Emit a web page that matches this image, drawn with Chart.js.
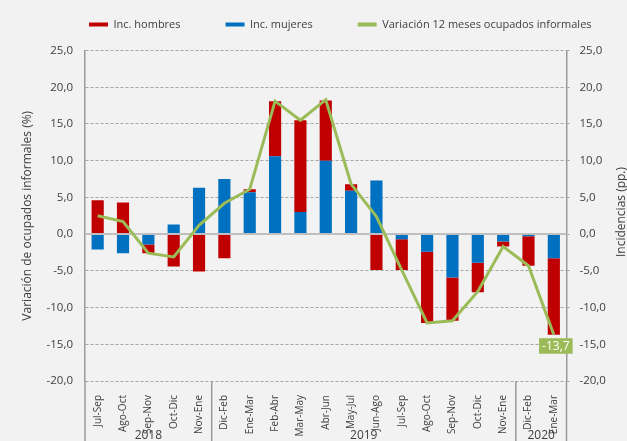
<!DOCTYPE html>
<html>
<head>
<meta charset="utf-8">
<script src="https://cdn.jsdelivr.net/npm/chart.js@4.4.1/dist/chart.umd.min.js"></script>
<style>
  html, body { margin: 0; padding: 0; background: #F2F2F2; }
  #wrap { width: 627px; height: 441px; position: relative; }
  canvas { display: block; }
</style>
</head>
<body>
<div id="wrap"><canvas id="c" width="627" height="441"></canvas></div>
<script>
// ---- data ----
const categories = ['Jul-Sep','Ago-Oct','Sep-Nov','Oct-Dic','Nov-Ene',
  'Dic-Feb','Ene-Mar','Feb-Abr','Mar-May','Abr-Jun','May-Jul','Jun-Ago','Jul-Sep','Ago-Oct','Sep-Nov','Oct-Dic','Nov-Ene',
  'Dic-Feb','Ene-Mar'];
const yearLabels = ['2018', '2019', '2020'];
const yearFirstIndex = [0, 5, 17];
const yearLastIndex = [4, 16, 18];
const incHombres = [4.6, 4.3, -1.2, -4.4, -5.1, -3.3, 0.4, 7.5, 12.5, 8.2, 0.9, -4.9, -4.2, -9.7, -5.9, -4.0, -0.7, -4.0, -10.4];
const incMujeres = [-2.1, -2.6, -1.4, 1.3, 6.3, 7.5, 5.7, 10.6, 3.0, 10.0, 5.9, 7.3, -0.7, -2.4, -5.9, -3.9, -1.0, -0.3, -3.3];
const variacion = [2.5, 1.7, -2.6, -3.1, 1.2, 4.2, 6.1, 18.1, 15.5, 18.3, 6.8, 2.4, -4.9, -12.1, -11.8, -7.8, -1.7, -4.3, -13.7];
const yMin = -20, yMax = 25, yStep = 5;
const seriesNames = ['Inc. hombres', 'Inc. mujeres', 'Variación 12 meses ocupados informales'];
const leftTitle = 'Variación de ocupados informales (%)';
const rightTitle = 'Incidencias (pp.)';

// ---- styles ----
const RED = '#C00000', BLUE = '#0070C0', GREEN = '#9BBB59';
const TXT = '#404040', AXIS = '#9a9a9a', GRID = '#A6A6A6';
const FONT = "'Open Sans', sans-serif";
Chart.defaults.font.family = FONT;

const fmt = v => v.toFixed(1).replace('.', ',');

const decor = {
  id: 'decor',
  beforeDraw(chart) {
    const ctx = chart.ctx;
    ctx.save();
    ctx.fillStyle = '#F2F2F2';
    ctx.fillRect(0, 0, chart.width, chart.height);
    ctx.restore();
  },
  afterLayout(chart) {
    const lg = chart.legend;
    if (lg) {
      lg.left = 44; lg.right = 900;
      lg.top = -26; lg.bottom = 50;
    }
  },
  beforeDatasetDraw(chart, args) {
    if (args.meta.type !== 'line') return;
    const ctx = chart.ctx, y = chart.scales.y.getPixelForValue(0), a = chart.chartArea;
    ctx.save();
    ctx.strokeStyle = '#BFBFBF';
    ctx.lineWidth = 2;
    ctx.beginPath(); ctx.moveTo(a.left, y); ctx.lineTo(a.right, y); ctx.stroke();
    ctx.restore();
  },
  afterDraw(chart) {
    const ctx = chart.ctx, a = chart.chartArea, xs = chart.scales.x;
    const half = (xs.getPixelForValue(1) - xs.getPixelForValue(0)) / 2;
    ctx.save();
    // axis extensions and group separators below plot
    ctx.strokeStyle = AXIS; ctx.lineWidth = 1.5;
    const xsLines = [a.left, a.right];
    for (let g = 1; g < yearFirstIndex.length; g++) xsLines.push(xs.getPixelForValue(yearFirstIndex[g]) - half);
    xsLines.forEach(x => { ctx.beginPath(); ctx.moveTo(x, a.bottom); ctx.lineTo(x, chart.height); ctx.stroke(); });
    // year labels
    ctx.fillStyle = TXT; ctx.font = '12px ' + FONT; ctx.textAlign = 'center'; ctx.textBaseline = 'middle';
    yearLabels.forEach((t, g) => {
      const x0 = xs.getPixelForValue(yearFirstIndex[g]) - half;
      const x1 = xs.getPixelForValue(yearLastIndex[g]) + half;
      ctx.fillText(t, (x0 + x1) / 2, 436);
    });
    // right axis title (reads bottom to top)
    ctx.save();
    ctx.translate(622, 212);
    ctx.rotate(-Math.PI / 2);
    ctx.fillText(rightTitle, 0, 0);
    ctx.restore();
    // data label for last point of the line
    const meta = chart.getDatasetMeta(2);
    const last = meta.data[meta.data.length - 1];
    const txt = fmt(variacion[variacion.length - 1]);
    ctx.font = '12px ' + FONT;
    const w = ctx.measureText(txt).width + 6;
    const bx = last.x + 2 - w / 2, by = last.y + 3.5, bh = 15.5;
    ctx.fillStyle = GREEN; ctx.fillRect(bx, by, w, bh);
    ctx.fillStyle = '#FFFFFF'; ctx.fillText(txt, bx + w / 2, by + bh / 2 + 0.5);
    ctx.restore();
  }
};

new Chart(document.getElementById('c'), {
  data: {
    labels: categories,
    datasets: [
      { type: 'bar', label: seriesNames[0], data: incHombres, backgroundColor: RED, borderWidth: 0,
        order: 2, yAxisID: 'y', barPercentage: 0.48, categoryPercentage: 1 },
      { type: 'bar', label: seriesNames[1], data: incMujeres, backgroundColor: BLUE, borderWidth: 0,
        order: 1, yAxisID: 'y', barPercentage: 0.48, categoryPercentage: 1 },
      { type: 'line', label: seriesNames[2], data: variacion, borderColor: GREEN, backgroundColor: GREEN,
        borderWidth: 3, pointRadius: 0, tension: 0, order: 0, stack: 'line', yAxisID: 'y' }
    ]
  },
  options: {
    responsive: false,
    devicePixelRatio: 1,
    animation: false,
    layout: { padding: 0 },
    plugins: {
      tooltip: { enabled: false },
      legend: {
        display: true, position: 'top', align: 'start', maxHeight: 50.5,
        labels: {
          boxWidth: 19, boxHeight: 4, padding: 45, color: TXT,
          font: { family: FONT, size: 11 },
          generateLabels: chart => chart.data.datasets.map((ds, i) => ({
            text: ds.label,
            fillStyle: ds.type === 'line' ? ds.borderColor : ds.backgroundColor,
            strokeStyle: ds.type === 'line' ? ds.borderColor : ds.backgroundColor,
            lineWidth: 0, hidden: false, datasetIndex: i, fontColor: TXT
          }))
        }
      }
    },
    scales: {
      x: {
        stacked: true, offset: true,
        grid: { display: false }, border: { display: false },
        ticks: { autoSkip: false, maxRotation: 90, minRotation: 90, padding: 6, color: TXT,
                 font: { family: FONT, size: 10 } },
        afterFit: s => { s.height = 60; }
      },
      y: {
        position: 'left', stacked: true, min: yMin, max: yMax,
        ticks: { stepSize: yStep, callback: v => fmt(v), padding: 12, color: TXT, font: { family: FONT, size: 11.5 } },
        grid: { color: c => (c.tick && c.tick.value === 0) ? 'rgba(0,0,0,0)' : GRID, lineWidth: 1, drawTicks: false },
        border: { display: true, color: AXIS, width: 1.5, dash: [3, 2] },
        title: { display: true, text: leftTitle, color: TXT, font: { family: FONT, size: 12 }, padding: { top: 20, bottom: 0 } },
        afterFit: s => { s.width = 85; }
      },
      y2: {
        position: 'right', min: yMin, max: yMax,
        ticks: { stepSize: yStep, callback: v => fmt(v), padding: 10, color: TXT, font: { family: FONT, size: 11.5 } },
        grid: { drawOnChartArea: false, drawTicks: true, tickLength: 3, color: AXIS },
        border: { display: true, color: AXIS, width: 1.5 },
        afterFit: s => { s.width = 60.5; }
      }
    }
  },
  plugins: [decor]
});
</script>
</body>
</html>
